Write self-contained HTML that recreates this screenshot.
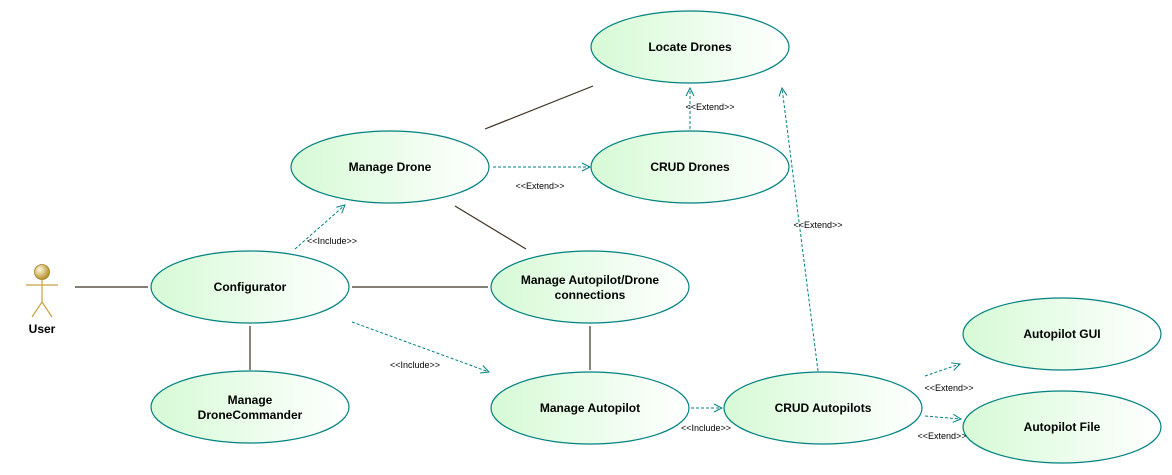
<!DOCTYPE html>
<html><head><meta charset="utf-8"><style>
html,body{margin:0;padding:0;background:#fff;}
svg{display:block;}
.uc{font:bold 12px "Liberation Sans",sans-serif;fill:#000;text-anchor:middle;}
.lb{font:9px "Liberation Sans",sans-serif;fill:#000;text-anchor:middle;}
</style></head><body>
<svg width="1172" height="475" viewBox="0 0 1172 475" xmlns="http://www.w3.org/2000/svg">
<defs>
<linearGradient id="g" x1="0" x2="1" y1="0" y2="0">
<stop offset="0" stop-color="#d6fad6"/><stop offset="1" stop-color="#ffffff"/>
</linearGradient>
<marker id="a" markerWidth="10" markerHeight="10" refX="9" refY="5" orient="auto" markerUnits="userSpaceOnUse">
<path d="M1,1 L9,5 L1,9" fill="none" stroke="#008080" stroke-width="1"/>
</marker>
<radialGradient id="h" cx="0.35" cy="0.35" r="0.7">
<stop offset="0" stop-color="#fff8e0"/><stop offset="1" stop-color="#b08a20"/>
</radialGradient>
</defs>
<g stroke="#3c3020" stroke-width="1.2" fill="none">
<line x1="75" y1="287" x2="148" y2="287"/>
<line x1="485" y1="129" x2="593" y2="86"/>
<line x1="455" y1="206" x2="526" y2="249"/>
<line x1="352" y1="287" x2="488" y2="287"/>
<line x1="250" y1="326" x2="250" y2="370"/>
<line x1="590" y1="326" x2="590" y2="370"/>
</g>
<g stroke="#008080" stroke-width="1" fill="none" stroke-dasharray="3,2" marker-end="url(#a)">
<line x1="493" y1="167" x2="590" y2="167"/>
<line x1="690" y1="129" x2="690" y2="88"/>
<line x1="295" y1="249" x2="345" y2="205"/>
<line x1="352" y1="322" x2="489" y2="372"/>
<line x1="691" y1="408" x2="722" y2="408"/>
<line x1="818" y1="371" x2="782" y2="88"/>
<line x1="925" y1="376" x2="960" y2="364"/>
<line x1="925" y1="416" x2="961" y2="419"/>
</g>
<g stroke="#008080" stroke-width="1.2" fill="url(#g)">
<ellipse cx="690" cy="47" rx="99" ry="36"/>
<ellipse cx="690" cy="167" rx="99" ry="36"/>
<ellipse cx="390" cy="167" rx="99" ry="36"/>
<ellipse cx="250" cy="287" rx="99" ry="36"/>
<ellipse cx="590" cy="287" rx="99" ry="36"/>
<ellipse cx="250" cy="407" rx="99" ry="36"/>
<ellipse cx="590" cy="408" rx="99" ry="36"/>
<ellipse cx="823" cy="408" rx="99" ry="36"/>
<ellipse cx="1062" cy="334" rx="99" ry="36"/>
<ellipse cx="1062" cy="427" rx="99" ry="36"/>
</g>
<text class="uc" x="690" y="51">Locate Drones</text>
<text class="uc" x="690" y="171">CRUD Drones</text>
<text class="uc" x="390" y="171">Manage Drone</text>
<text class="uc" x="250" y="291">Configurator</text>
<text class="uc" x="590" y="284">Manage Autopilot/Drone</text>
<text class="uc" x="590" y="299">connections</text>
<text class="uc" x="250" y="404">Manage</text>
<text class="uc" x="250" y="419">DroneCommander</text>
<text class="uc" x="590" y="412">Manage Autopilot</text>
<text class="uc" x="823" y="412">CRUD Autopilots</text>
<text class="uc" x="1062" y="338">Autopilot GUI</text>
<text class="uc" x="1062" y="431">Autopilot File</text>
<text class="lb" x="540" y="189">&lt;&lt;Extend&gt;&gt;</text>
<text class="lb" x="710" y="110">&lt;&lt;Extend&gt;&gt;</text>
<text class="lb" x="332" y="244">&lt;&lt;Include&gt;&gt;</text>
<text class="lb" x="415" y="368">&lt;&lt;Include&gt;&gt;</text>
<text class="lb" x="706" y="431">&lt;&lt;Include&gt;&gt;</text>
<text class="lb" x="818" y="228">&lt;&lt;Extend&gt;&gt;</text>
<text class="lb" x="949" y="391">&lt;&lt;Extend&gt;&gt;</text>
<text class="lb" x="942" y="439">&lt;&lt;Extend&gt;&gt;</text>
<g stroke="#c8a040" stroke-width="1.2" fill="none">
<line x1="42" y1="279" x2="42" y2="302"/>
<line x1="26" y1="285" x2="58" y2="285"/>
<line x1="42" y1="302" x2="32" y2="317"/>
<line x1="42" y1="302" x2="52" y2="317"/>
</g>
<circle cx="42" cy="272" r="7.5" fill="url(#h)" stroke="#a07c20" stroke-width="0.8"/>
<text class="uc" x="42" y="333">User</text>
</svg>
</body></html>
